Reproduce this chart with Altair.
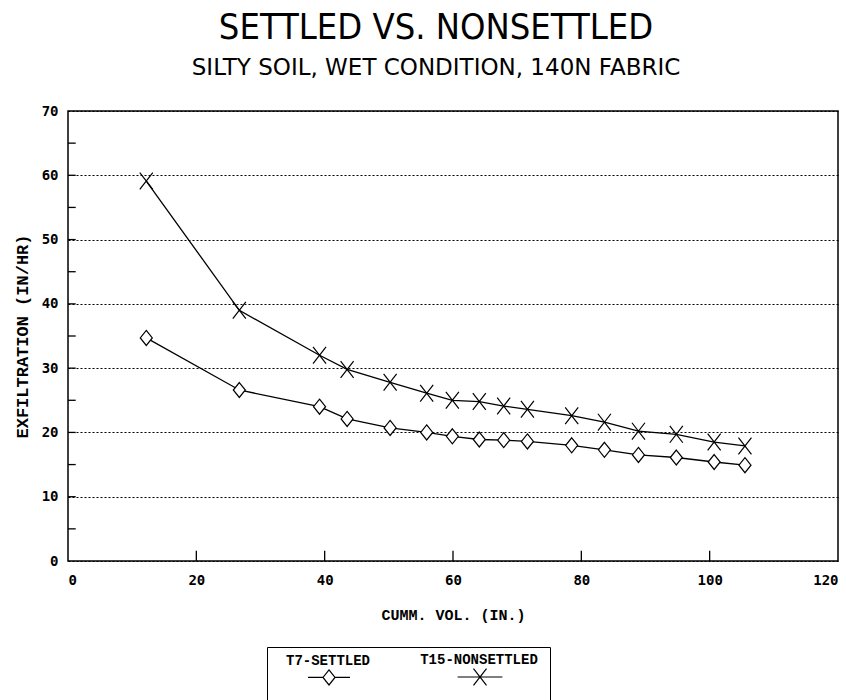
import altair as alt
import pandas as pd

# Cumulative volume (in.) at each reading, shared by both tests
cum_volume = [12.2, 26.7, 39.2, 43.5, 50.2, 55.9, 59.9, 64.1, 67.9, 71.6,
              78.5, 83.6, 88.9, 94.8, 100.7, 105.5]
# Exfiltration rate (in/hr)
t7_settled = [34.7, 26.6, 24.0, 22.1, 20.7, 20.0, 19.4, 18.9, 18.8, 18.6,
              18.0, 17.3, 16.5, 16.1, 15.4, 14.9]
t15_nonsettled = [59.1, 39.0, 32.0, 29.8, 27.8, 26.1, 25.0, 24.8, 24.1, 23.6,
                  22.6, 21.6, 20.2, 19.7, 18.5, 17.9]
series_names = ["T7-SETTLED", "T15-NONSETTLED"]

x_label_values = [0, 20, 40, 60, 80, 100, 120]
y_label_values = [0, 10, 20, 30, 40, 50, 60, 70]
x_tick_values = [20, 40, 60, 80, 100]
y_tick_values = [5, 10, 15, 20, 25, 30, 35, 40, 45, 50, 55, 60, 65]

n = len(cum_volume)
df = pd.DataFrame({
    "vol": cum_volume * 2,
    "rate": t7_settled + t15_nonsettled,
    "series": [series_names[0]] * n + [series_names[1]] * n,
})
xticks_df = pd.DataFrame({"vol": x_tick_values})
yticks_df = pd.DataFrame({"rate": y_tick_values})

# marker shapes (unit square paths)
DIAMOND = "M0,-1.07L0.86,0L0,1.07L-0.86,0Z"
CROSS = "M-0.93,-1.2L0.93,1.2M-0.93,1.2L0.93,-1.2"
# legend keys: a short line through the marker, drawn below the label
DIAMOND_KEY = "M-3,1.4L-0.86,1.4M0.86,1.4L3,1.4M0,0.33L0.86,1.4L0,2.47L-0.86,1.4Z"
CROSS_KEY = "M-3.2,1.4L3.2,1.4M-0.93,0.2L0.93,2.6M-0.93,2.6L0.93,0.2"

TICK_FONT = "DejaVu Sans Mono"
SERIF_MONO = "Liberation Mono"

x_scale = alt.Scale(domain=[0, 120], nice=False, zero=False)
y_scale = alt.Scale(domain=[0, 70], nice=False, zero=False)

x_enc = alt.X(
    "vol:Q", scale=x_scale,
    axis=alt.Axis(
        values=x_label_values, title="CUMM. VOL. (IN.)", grid=False,
        ticks=False, domain=False, labelFont=TICK_FONT, labelFontSize=14,
        labelFontWeight="bold", labelColor="black", labelPadding=12,
        titleFont=SERIF_MONO, titleFontSize=15, titleFontWeight="bold",
        titleColor="black", titlePadding=20,
    ),
)
y_enc = alt.Y(
    "rate:Q", scale=y_scale,
    axis=alt.Axis(
        values=y_label_values, title="EXFILTRATION (IN/HR)", grid=True,
        gridColor="black", gridDash=[2, 2], gridWidth=1.2, ticks=False,
        domain=False, labelFont=TICK_FONT, labelFontSize=14,
        labelFontWeight="bold", labelColor="black", labelPadding=10,
        titleFont=SERIF_MONO, titleFontSize=17, titleFontWeight="bold",
        titleColor="black", titlePadding=10,
    ),
)

lines = alt.Chart(df).mark_line(color="black", strokeWidth=1.3).encode(
    x=x_enc, y=y_enc, detail="series:N"
)

points = alt.Chart(df).mark_point(
    stroke="black", fill="white", fillOpacity=1, opacity=1,
    strokeWidth=1.2, size=196,
).encode(
    x="vol:Q", y="rate:Q",
    shape=alt.Shape("series:N",
                    scale=alt.Scale(domain=series_names, range=[DIAMOND, CROSS]),
                    legend=None),
)

# legend-only layer: no rows are drawn, its shape scale feeds the key
key = alt.Chart(df).transform_filter("false").mark_point(
    color="black", filled=False, opacity=1, strokeWidth=1.2, size=196,
).encode(
    x="vol:Q", y="rate:Q",
    shape=alt.Shape(
        "series:N",
        scale=alt.Scale(domain=series_names, range=[DIAMOND_KEY, CROSS_KEY]),
        legend=alt.Legend(
            title=None, orient="none", legendX=199, legendY=536,
            direction="horizontal", strokeColor="black", padding=12,
            symbolSize=196, symbolStrokeColor="black",
            symbolStrokeWidth=1.2, symbolOffset=42, labelFont=SERIF_MONO,
            labelFontSize=14, labelFontWeight="bold", labelColor="black",
            labelAlign="center", labelBaseline="bottom",
            labelOffset=alt.ExprRef(expr="-9"), columnPadding=49,
        ),
    ),
)

# inward tick marks along the bottom and left edges of the frame
x_ticks = alt.Chart(xticks_df).mark_rule(color="black", strokeWidth=1.3).encode(
    x="vol:Q", y=alt.datum(0), y2=alt.datum(1.6)
)
y_ticks = alt.Chart(yticks_df).mark_rule(color="black", strokeWidth=1.3).encode(
    y="rate:Q", x=alt.datum(0), x2=alt.datum(1.2)
)

chart = alt.layer(lines, x_ticks, y_ticks, points, key).resolve_scale(
    shape="independent"
).properties(
    width=770, height=450, background="white",
    padding={"left": 68, "top": 111, "right": 8, "bottom": 139},
    autosize=alt.AutoSizeParams(type="none"),
    title=alt.TitleParams(
        text="SETTLED VS. NONSETTLED",
        subtitle="SILTY SOIL, WET CONDITION, 140N FABRIC",
        font="DejaVu Sans Condensed, Liberation Sans Narrow, DejaVu Sans",
        fontSize=36, fontWeight="normal", color="black",
        subtitleFont="DejaVu Sans", subtitleFontSize=23, subtitleColor="black",
        subtitlePadding=10, offset=23, anchor="middle", dx=-17,
    ),
).configure_view(
    stroke="black", strokeWidth=1.5
)

chart.save("out.html", embed_options={"renderer": "svg", "actions": False})
